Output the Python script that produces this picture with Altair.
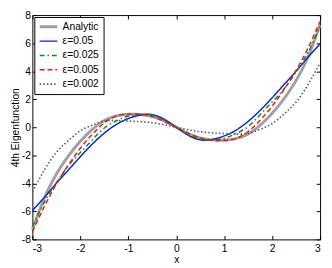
import altair as alt
import pandas as pd

x_vals = [-3.0, -2.75, -2.5, -2.25, -2.0, -1.75, -1.5, -1.25, -1.0, -0.75, -0.5, -0.25, 0.0,
          0.25, 0.5, 0.75, 1.0, 1.25, 1.5, 1.75, 2.0, 2.25, 2.5, 2.75, 3.0]

analytic = [-7.3, -5.05, -3.35, -2.05, -1.0, -0.15, 0.48, 0.8, 0.92, 0.9, 0.76, 0.45, 0.0,
            -0.45, -0.76, -0.9, -0.92, -0.8, -0.48, 0.15, 1.0, 2.05, 3.35, 5.05, 7.3]
eps_05 = [-5.95, -5.0, -4.0, -3.05, -2.1, -1.2, -0.42, 0.2, 0.62, 0.87, 0.9, 0.57, 0.0,
          -0.57, -0.9, -0.87, -0.62, -0.2, 0.42, 1.2, 2.1, 3.05, 4.0, 5.0, 5.95]
eps_025 = [-7.1, -5.35, -3.95, -2.75, -1.8, -0.9, -0.05, 0.45, 0.8, 0.92, 0.85, 0.52, 0.0,
           -0.52, -0.85, -0.92, -0.8, -0.45, 0.05, 0.9, 1.8, 2.75, 3.95, 5.35, 7.2]
eps_005 = [-7.45, -5.65, -4.05, -2.7, -1.5, -0.5, 0.3, 0.8, 0.95, 0.92, 0.76, 0.42, 0.0,
           -0.42, -0.76, -0.92, -0.95, -0.8, -0.3, 0.5, 1.5, 2.7, 4.05, 5.65, 7.55]
eps_002 = [-4.6, -3.05, -1.8, -0.95, -0.25, 0.15, 0.45, 0.48, 0.45, 0.4, 0.32, 0.18, 0.0,
           -0.18, -0.32, -0.4, -0.45, -0.48, -0.45, -0.15, 0.25, 0.95, 1.8, 3.05, 4.6]

series_names = ["Analytic", "ε=0.05", "ε=0.025", "ε=0.005", "ε=0.002"]
series_values = [analytic, eps_05, eps_025, eps_005, eps_002]

x_ticks = [-3, -2, -1, 0, 1, 2, 3]
y_ticks = [-8, -6, -4, -2, 0, 2, 4, 6, 8]

colors = ["#a0a0a0", "#0a1ef0", "#009900", "#ff1010", "#555555"]
dashes = [[1, 0], [1, 0], [5, 3, 1.5, 3], [5, 3], [1.5, 2.2]]
widths = [3, 1.5, 1.5, 1.5, 1.6]

rows = []
for name, vals in zip(series_names, series_values):
    for xv, yv in zip(x_vals, vals):
        rows.append({"series": name, "x": xv, "y": yv})
df = pd.DataFrame(rows)

W, H = 295, 230
FONT = "Liberation Sans"
FS = 10.5

xscale = alt.Scale(domain=[-3, 3], nice=False, zero=False)
yscale = alt.Scale(domain=[-8, 8], nice=False, zero=False)

base = alt.Chart(df)

lines = base.mark_line(interpolate="natural").encode(
    x=alt.X("x:Q", scale=xscale,
            axis=alt.Axis(orient="bottom", values=x_ticks, ticks=False, domain=False, grid=False,
                          labelPadding=4, title="x", titlePadding=1,
                          labelExpr="'' + datum.value")),
    y=alt.Y("y:Q", scale=yscale,
            axis=alt.Axis(orient="left", values=y_ticks, ticks=False, domain=False, grid=False,
                          labelPadding=2, title="4th Eigenfunction", titlePadding=1,
                          labelExpr="'' + datum.value")),
    color=alt.Color("series:N", scale=alt.Scale(domain=series_names, range=colors),
                    legend=alt.Legend(title="")),
    strokeDash=alt.StrokeDash("series:N", scale=alt.Scale(domain=series_names, range=dashes),
                              legend=alt.Legend(title="")),
    strokeWidth=alt.StrokeWidth("series:N",
                                scale=alt.Scale(type="ordinal", domain=series_names, range=widths),
                                legend=alt.Legend(title="")),
)

ticks_a = base.mark_point(opacity=0).encode(
    x=alt.X("x:Q", scale=xscale,
            axis=alt.Axis(orient="top", offset=-H, values=x_ticks, labels=False, domain=False,
                          grid=False, ticks=True, tickSize=4, title="")),
    y=alt.Y("y:Q", scale=yscale,
            axis=alt.Axis(orient="right", offset=-W, values=y_ticks, labels=False, domain=False,
                          grid=False, ticks=True, tickSize=4, title="")),
)

ticks_b = base.mark_point(opacity=0).encode(
    x=alt.X("x:Q", scale=xscale,
            axis=alt.Axis(orient="bottom", offset=-H, values=x_ticks, labels=False, domain=False,
                          grid=False, ticks=True, tickSize=4, title="")),
    y=alt.Y("y:Q", scale=yscale,
            axis=alt.Axis(orient="left", offset=-W, values=y_ticks, labels=False, domain=False,
                          grid=False, ticks=True, tickSize=4, title="")),
)

chart = alt.layer(lines, ticks_a, ticks_b).resolve_axis(
    x="independent", y="independent"
).properties(
    width=W, height=H,
    autosize=alt.AutoSizeParams(type="none"),
    padding={"left": 25, "top": 4, "right": 4, "bottom": 24},
).configure_view(
    stroke="black", strokeWidth=1
).configure_axis(
    labelFont=FONT, labelFontSize=FS, labelColor="black",
    titleFont=FONT, titleFontSize=FS, titleColor="black", titleFontWeight="normal",
    tickColor="black", tickWidth=1,
).configure_legend(
    orient="top-left", offset=2, padding=4,
    strokeColor="black", fillColor="white", cornerRadius=0,
    symbolType="stroke", symbolSize=324, clipHeight=12, rowPadding=2.7,
    labelFont=FONT, labelFontSize=FS, labelColor="black", labelOffset=4,
)

chart.save("out.html", embed_options={"renderer": "svg", "actions": False})
